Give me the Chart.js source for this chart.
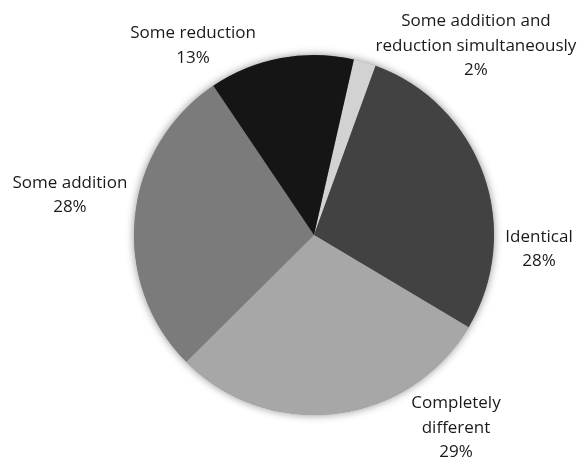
<!DOCTYPE html>
<html><head><meta charset="utf-8">
<script src="https://cdn.jsdelivr.net/npm/chart.js@4"></script>
<style>html,body{margin:0;padding:0;background:#fff}#w{width:584px;height:459px}</style>
</head><body><div id="w"><canvas id="c" width="584" height="459"></canvas></div>
<script>
const categories = ["Some addition and reduction simultaneously", "Identical", "Completely different", "Some addition", "Some reduction"];
const labelLines = [["Some addition and", "reduction simultaneously"], ["Identical"], ["Completely", "different"], ["Some addition"], ["Some reduction"]];
const values = [2, 28, 29, 28, 13];
const colors = ["#d2d2d2", "#424242", "#a7a7a7", "#7b7b7b", "#151515"];
// label anchor offsets relative to pie center, in radius units (style)
const labelOffsets = [[0.90, -1.05], [1.25, 0.078], [0.789, 1.072], [-1.356, -0.222], [-0.672, -1.053]];

const shadowPlugin = {
  id: 'shadow',
  beforeDatasetsDraw(chart) {
    const arc = chart.getDatasetMeta(0).data[0];
    if (!arc) return;
    const ctx = chart.ctx;
    ctx.save();
    ctx.shadowColor = 'rgba(0,0,0,0.45)';
    ctx.shadowBlur = 9;
    ctx.fillStyle = '#888';
    ctx.beginPath();
    ctx.arc(arc.x, arc.y, arc.outerRadius, 0, Math.PI * 2);
    ctx.fill();
    ctx.restore();
  }
};
const labelPlugin = {
  id: 'outlabels',
  afterDatasetsDraw(chart) {
    const meta = chart.getDatasetMeta(0);
    const ctx = chart.ctx;
    const total = values.reduce((a, b) => a + b, 0);
    ctx.save();
    ctx.font = '17px "Open Sans", sans-serif';
    ctx.fillStyle = '#1a1a1a';
    ctx.textAlign = 'center';
    ctx.textBaseline = 'middle';
    const lh = 24.5;
    meta.data.forEach((arc, i) => {
      const r = arc.outerRadius;
      const cx = arc.x + labelOffsets[i][0] * r;
      const cy = arc.y + labelOffsets[i][1] * r;
      const lines = labelLines[i].concat([Math.round(values[i] / total * 100) + '%']);
      const y0 = cy - (lines.length - 1) * lh / 2;
      lines.forEach((t, k) => ctx.fillText(t, cx, y0 + k * lh));
    });
    ctx.restore();
  }
};

new Chart(document.getElementById('c'), {
  type: 'pie',
  data: { labels: categories, datasets: [{ data: values, backgroundColor: colors, borderWidth: 0 }] },
  options: {
    responsive: false,
    animation: false,
    rotation: 12.8,
    layout: { padding: { left: 134, right: 90, top: 55, bottom: 44 } },
    plugins: { legend: { display: false }, tooltip: { enabled: false } }
  },
  plugins: [shadowPlugin, labelPlugin]
});
</script></body></html>
